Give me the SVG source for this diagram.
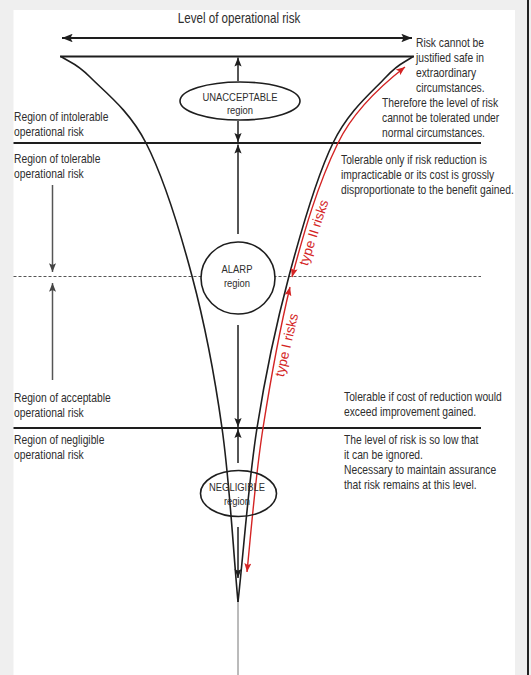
<svg xmlns="http://www.w3.org/2000/svg" width="531" height="675" viewBox="0 0 531 675">
<style>
.t{font-family:"Liberation Sans",Arial,Helvetica,sans-serif;font-size:13.2px;fill:#2e2e2e}
.ti{font-size:14.5px;text-anchor:middle}
.el{font-size:11.5px;text-anchor:middle}
.r{font-family:"Liberation Sans",Arial,Helvetica,sans-serif;font-size:13.5px;fill:#d42424;text-anchor:middle}
.ln{stroke:#1e1e1e;fill:none}
.hl{stroke:#1e1e1e;stroke-width:1.8;fill:none}
.ar{stroke:#1e1e1e;stroke-width:1.5;fill:none;marker-end:url(#ah)}
.ag{stroke:#555;stroke-width:1.5;fill:none;marker-end:url(#ahg)}
.rd{stroke:#d42424;stroke-width:1.4;fill:none;marker-start:url(#ahr);marker-end:url(#ahr)}
.nd{fill:#fff;stroke:#1e1e1e;stroke-width:1.6}
</style>
<defs>
<marker id="ah" viewBox="0 0 10 8" refX="10" refY="4" markerWidth="9" markerHeight="7.5" orient="auto-start-reverse" markerUnits="userSpaceOnUse"><path d="M0,0 L10,4 L0,8 L2,4 Z" fill="#1e1e1e"/></marker>
<marker id="ahb" viewBox="0 0 10 8" refX="10" refY="4" markerWidth="11" markerHeight="8.5" orient="auto-start-reverse" markerUnits="userSpaceOnUse"><path d="M0,0 L10,4 L0,8 L2,4 Z" fill="#1e1e1e"/></marker>
<marker id="ahg" viewBox="0 0 10 8" refX="10" refY="4" markerWidth="9" markerHeight="7" orient="auto-start-reverse" markerUnits="userSpaceOnUse"><path d="M0,0 L10,4 L0,8 L2,4 Z" fill="#444"/></marker>
<marker id="ahr" viewBox="0 0 10 8" refX="10" refY="4" markerWidth="9" markerHeight="7" orient="auto-start-reverse" markerUnits="userSpaceOnUse"><path d="M0,0 L10,4 L0,8 L2,4 Z" fill="#d42424"/></marker>
</defs>
<rect x="0" y="0" width="531" height="675" fill="#efefef"/>
<rect x="13.5" y="10" width="501.5" height="665" fill="#fff"/>
<rect x="527" y="0" width="2" height="675" fill="#222"/>

<g id="level-lines">
<path class="hl" d="M60,56.5 H414"/>
<path class="hl" d="M13.5,143 H481"/>
<path class="hl" d="M13.5,428 H481"/>
<path d="M13.5,276.5 H481" stroke="#555" stroke-width="1" stroke-dasharray="3 2" fill="none"/>
</g>

<g id="funnel">
<path class="ln" stroke-width="1.6" d="M61,56.5 C70.7,63 75.8,62.5 90,77 C104.2,91.5 129,109.8 146,143 C163,176.2 179.3,228.5 192,276 C204.7,323.5 214.3,373.2 222,428 C229.7,482.3 232.7,544 238,602"/>
<path class="ln" stroke-width="1.6" d="M413,56.5 C404,63 399.3,62.5 386,77 C372.7,91.5 349.2,109.8 333,143 C316.8,176.2 301.7,228.5 289,276 C276.3,323.5 265.5,373.7 257,428 C248.5,482.3 244.3,544 238,602"/>
<path d="M238,602 V675" stroke="#777" stroke-width="1" fill="none"/>
</g>

<g id="connectors">
<path d="M62,38 H412" stroke="#1e1e1e" stroke-width="2" fill="none" marker-start="url(#ahb)" marker-end="url(#ahb)"/>
<path class="ar" d="M238,81 V57.5"/>
<path class="ar" d="M238,121 V142"/>
<path class="ar" d="M238,234 V144.5"/>
<path class="ar" d="M238,325 V427"/>
<path class="ar" d="M238,463 V429"/>
<path class="ar" d="M238,527 V578"/>
<path class="ag" d="M52.5,185 V272"/>
<path class="ag" d="M52.5,380 V283"/>
<path class="rd" d="M405,67 C378,88 353,112 338,143 C317.5,185 304,232 292,277"/>
<path class="rd" d="M290,287 C278.6,334 270.4,381 263,428 C255.5,475.7 251.8,523.8 247,572"/>
<text class="r" transform="translate(318 234) rotate(-72)">type II risks</text>
<text class="r" transform="translate(291 346) rotate(-77)">type I risks</text>
</g>

<g id="node-unacceptable">
<ellipse class="nd" cx="240" cy="101" rx="60" ry="19"/>
<g transform="translate(240 0) scale(.82 1)"><text class="t el" y="101.5">UNACCEPTABLE</text><text class="t el" y="114.5">region</text></g>
</g>
<g id="node-alarp">
<ellipse class="nd" cx="238" cy="278" rx="37" ry="36"/>
<g transform="translate(237 0) scale(.82 1)"><text class="t el" y="273.5">ALARP</text><text class="t el" y="287">region</text></g>
</g>
<g id="node-negligible">
<ellipse class="nd" cx="238.5" cy="493.5" rx="38" ry="23" style="fill:none"/>
<g transform="translate(237 0) scale(.82 1)"><text class="t el" y="491.5">NEGLIGIBLE</text><text class="t el" y="505">region</text></g>
</g>

<g id="title"><g transform="translate(239 0) scale(.8 1)"><text class="t ti" y="23">Level of operational risk</text></g></g>

<g id="left-labels">
<g transform="translate(14 0) scale(.78 1)"><text class="t" y="121">Region of intolerable</text><text class="t" y="136">operational risk</text></g>
<g transform="translate(14 0) scale(.78 1)"><text class="t" y="163">Region of tolerable</text><text class="t" y="178">operational risk</text></g>
<g transform="translate(14 0) scale(.78 1)"><text class="t" y="402">Region of acceptable</text><text class="t" y="417">operational risk</text></g>
<g transform="translate(14 0) scale(.78 1)"><text class="t" y="444">Region of negligible</text><text class="t" y="459">operational risk</text></g>
</g>

<g id="right-labels">
<g transform="translate(416 0) scale(.78 1)"><text class="t" y="47">Risk cannot be</text><text class="t" y="62">justified safe in</text><text class="t" y="77">extraordinary</text><text class="t" y="92">circumstances.</text></g>
<g transform="translate(382 0) scale(.78 1)"><text class="t" y="107">Therefore the level of risk</text><text class="t" y="122">cannot be tolerated under</text><text class="t" y="137">normal circumstances.</text></g>
<g transform="translate(341 0) scale(.78 1)"><text class="t" y="164">Tolerable only if risk reduction is</text><text class="t" y="179">impracticable or its cost is grossly</text><text class="t" y="194">disproportionate to the benefit gained.</text></g>
<g transform="translate(344 0) scale(.78 1)"><text class="t" y="401">Tolerable if cost of reduction would</text><text class="t" y="416">exceed improvement gained.</text></g>
<g transform="translate(344 0) scale(.78 1)"><text class="t" y="444">The level of risk is so low that</text><text class="t" y="459">it can be ignored.</text><text class="t" y="474">Necessary to maintain assurance</text><text class="t" y="489">that risk remains at this level.</text></g>
</g>
</svg>
